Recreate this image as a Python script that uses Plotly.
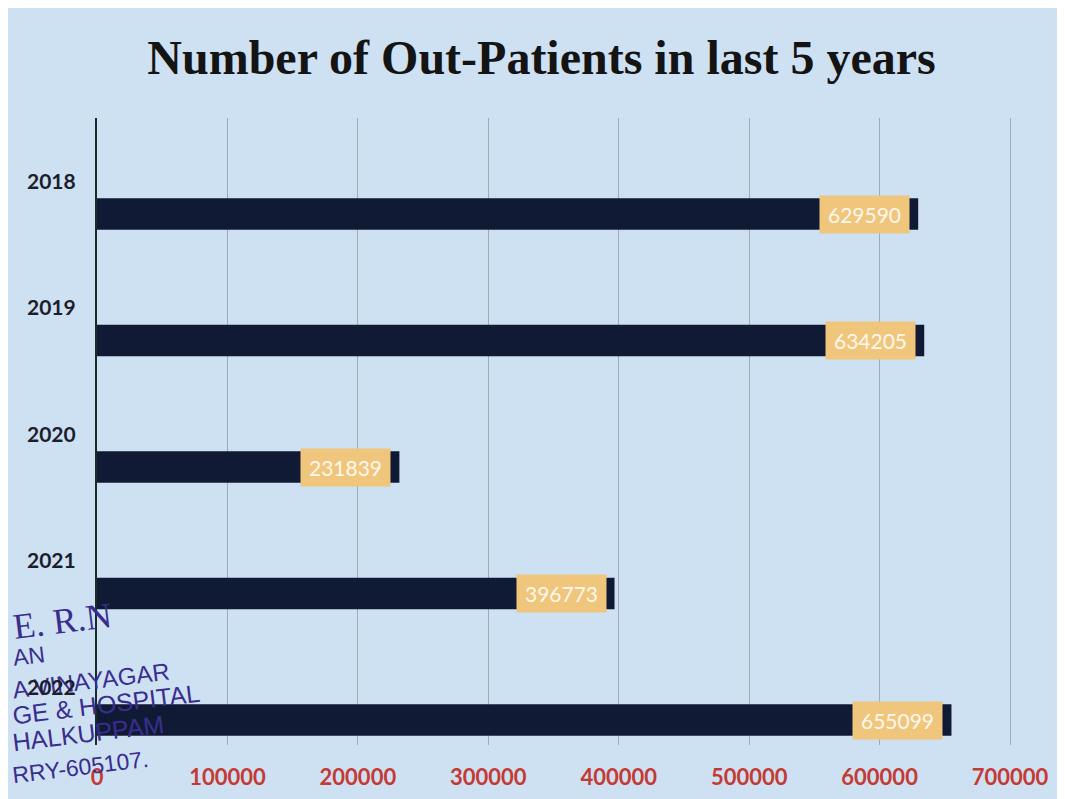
import plotly.graph_objects as go

years = ["2018", "2019", "2020", "2021", "2022"]
patients = [629590, 634205, 231839, 396773, 655099]
x_ticks = [0, 100000, 200000, 300000, 400000, 500000, 600000, 700000]
title_text = "Number of Out-Patients in last 5 years"
stamp_lines = ["E. R.N", "AN", "A VINAYAGAR", "GE & HOSPITAL", "HALKUPPAM", "RRY-605107."]

OFF = 8  # page margin in the browser
W, H = 1065 - OFF, 799 - OFF
X_MAX = 701500
# plot area in reference pixels: x 97..1012, y 118..745
L = 97 - OFF
R = W - (1012 - OFF)
T = 118 - OFF
B = H - (745 - OFF)
PW = W - L - R
PH = H - T - B


def px(xr):
    return (xr - OFF - L) / PW


def py(yr):
    return (H - B - (yr - OFF)) / PH


pos = list(range(len(years)))

fig = go.Figure()
fig.add_trace(go.Bar(
    y=pos, x=patients, orientation="h",
    marker=dict(color="#111a34", line=dict(width=0)),
    width=0.25, customdata=years, hovertemplate="%{customdata}: %{x}<extra></extra>",
))

annotations = []

# stamp: (x, y, size, family, anchor)
stamp_specs = [
    (116, 621, 36, "Liberation Serif", "right"),
    (9, 656, 23, "Liberation Sans", "left"),
    (9, 680, 24, "Liberation Sans", "left"),
    (9, 704, 25, "Liberation Sans", "left"),
    (9, 733, 25, "Liberation Sans", "left"),
    (9, 767, 23, "Liberation Sans", "left"),
]
for txt, (cx, cy, fs, fam, anc) in zip(stamp_lines, stamp_specs):
    annotations.append(dict(
        x=px(cx), y=py(cy), xref="paper", yref="paper", xanchor=anc, yanchor="middle",
        text=txt, showarrow=False, textangle=-7,
        font=dict(family=fam, size=fs, color="#3a2d8e"),
    ))

for i, (yr, v) in enumerate(zip(years, patients)):
    annotations.append(dict(
        x=px(25), y=pos[i], xref="paper", yref="y", xanchor="left", yanchor="middle", yshift=34,
        text="<b>" + yr + "</b>", showarrow=False,
        font=dict(family="Lato", size=21, color="#1c1e2c"),
    ))
    annotations.append(dict(
        x=v, y=pos[i], xref="x", yref="y", xanchor="right", yanchor="middle", xshift=-8,
        text=str(v), showarrow=False, width=89, height=37, borderpad=0,
        bgcolor="#efc67c", font=dict(family="Lato", size=21, color="#fdf8ee"),
    ))

# category index i sits at reference pixel 214 + 126.5*i
top_i = (118 - 214) / 126.5
bot_i = (745 - 214) / 126.5

fig.update_layout(
    width=W, height=H,
    margin=dict(l=L, r=R, t=T, b=B, autoexpand=False),
    paper_bgcolor="#cee1f3", plot_bgcolor="#cee1f3",
    title=dict(text="<b>" + title_text + "</b>", x=0.5 + 5 / W, xanchor="center",
               y=1 - (57 - OFF) / H, yanchor="middle",
               font=dict(family="Liberation Serif", size=48, color="#141414")),
    showlegend=False,
    xaxis=dict(range=[0, X_MAX], tickvals=x_ticks, ticktext=["<b>%d</b>" % t for t in x_ticks],
               showgrid=True, gridcolor="#9eabb9", gridwidth=1, zeroline=False, automargin=False,
               showline=False, ticks="outside", ticklen=13, tickcolor="rgba(0,0,0,0)",
               tickfont=dict(family="Lato", size=22, color="#c43a34")),
    yaxis=dict(range=[bot_i, top_i], tickvals=pos, showticklabels=False, showgrid=False,
               zeroline=False, showline=True, linecolor="#1a2c2a", linewidth=2, ticks="",
               automargin=False),
    annotations=annotations,
)

fig.write_html("out.html")
